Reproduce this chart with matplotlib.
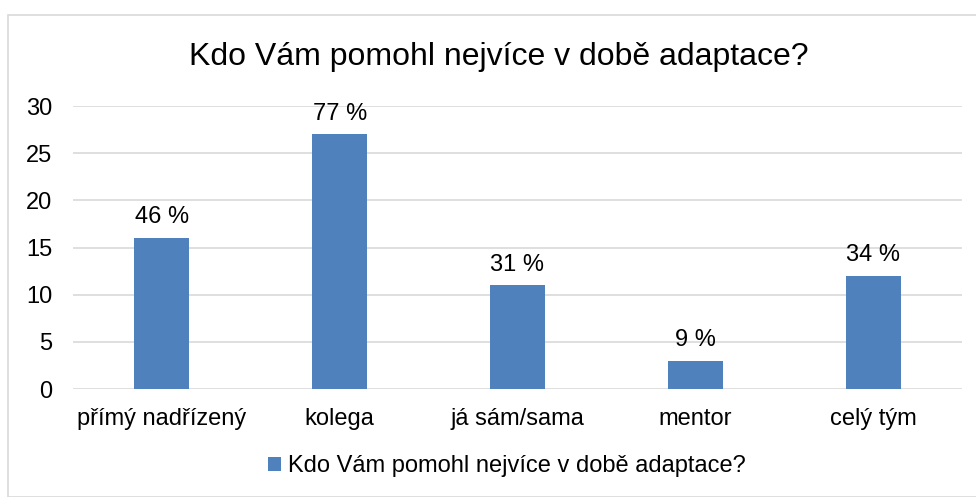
import matplotlib.pyplot as plt
from matplotlib.patches import Rectangle

plt.rcParams['font.family'] = ['Liberation Sans', 'DejaVu Sans']

kategorie = ['přímý nadřízený', 'kolega', 'já sám/sama', 'mentor', 'celý tým']
pocty = [16, 27, 11, 3, 12]
procenta = ['46 %', '77 %', '31 %', '9 %', '34 %']
nazev = 'Kdo Vám pomohl nejvíce v době adaptace?'

barva = '#4f81bd'
seda = '#d9d9d9'
vel = 17

fig = plt.figure(figsize=(9.76, 4.97), dpi=100)
W, H = 976, 497

# ramecek grafu
fig.patches.append(Rectangle((8 / W, 0), 1.2, 1 - 15 / H, transform=fig.transFigure,
                             fill=False, edgecolor=seda, linewidth=1.2))

ax = fig.add_axes([73 / W, (H - 389) / H, (962 - 73) / W, (389 - 106) / H])
x = range(len(kategorie))
barvy = ax.bar(x, pocty, width=0.31, color=barva, label=nazev, zorder=3)

ax.set_xlim(-0.5, len(kategorie) - 0.5)
ax.set_ylim(0, 30)
ax.set_yticks(range(0, 31, 5))
ax.set_xticks(list(x))
ax.set_xticklabels(kategorie)
ax.tick_params(axis='both', length=0, labelsize=vel, colors='black')
ax.tick_params(axis='x', pad=14)
ax.tick_params(axis='y', pad=15)
ax.grid(axis='y', color=seda, linewidth=1.2, zorder=0)
for s in ax.spines.values():
    s.set_visible(False)

for b, p in zip(barvy, procenta):
    ax.annotate(p, (b.get_x() + b.get_width() / 2, b.get_height()),
                xytext=(0, 7), textcoords='offset points',
                ha='center', va='bottom', fontsize=vel)

fig.text(499 / W, 1 - 57 / H, nazev, ha='center', va='center', fontsize=23)

fig.legend(handles=[barvy], labels=[nazev], loc='center',
           bbox_to_anchor=(507 / W, 1 - 466 / H), frameon=False, fontsize=vel,
           handlelength=0.55, handleheight=0.55, handletextpad=0.3)

fig.savefig('out.png', dpi=100, facecolor='white')
